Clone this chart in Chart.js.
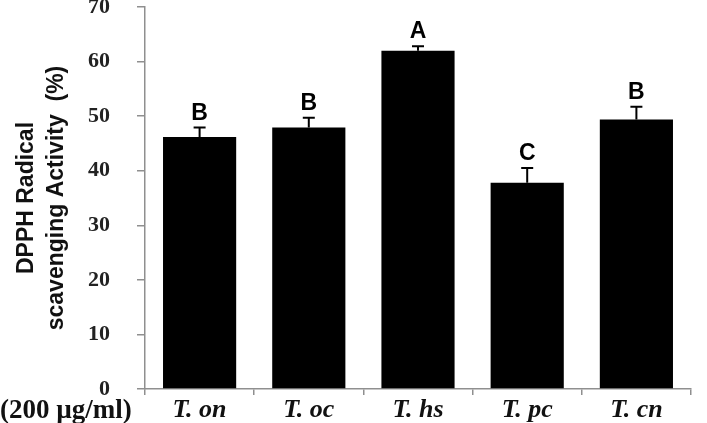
<!DOCTYPE html>
<html>
<head>
<meta charset="utf-8">
<script src="https://cdn.jsdelivr.net/npm/chart.js@4/dist/chart.umd.min.js"></script>
<style>
  html, body { margin: 0; padding: 0; background: #fff; }
  #wrap { width: 707px; height: 423px; position: relative; }
</style>
</head>
<body>
<div id="wrap"><canvas id="dpphChart" width="707" height="423"></canvas></div>
<script>
// Sample data
const categories = ["T. on", "T. oc", "T. hs", "T. pc", "T. cn"];
const activity = [46.2, 47.9, 62.0, 37.8, 49.4];
const errors = [1.7, 1.8, 0.8, 2.7, 2.3];
const groupLetters = ["B", "B", "A", "C", "B"];
const yTicks = [0, 10, 20, 30, 40, 50, 60, 70];
const concentrationLabel = "(200 \u00b5g/ml)";

const sansFont = "'Liberation Sans', Arial, sans-serif";
const serifFont = "'Liberation Serif', 'Times New Roman', serif";
const axisGray = "#8f8f8f";

// Error bars, significance letters and the concentration label
const annotatePlugin = {
  id: 'annotate',
  afterDatasetsDraw(chart) {
    const ctx = chart.ctx;
    const x = chart.scales.x;
    const y = chart.scales.y;
    ctx.save();
    ctx.strokeStyle = '#000';
    ctx.lineWidth = 2;
    activity.forEach((v, i) => {
      const cx = x.getPixelForValue(i);
      const yTop = y.getPixelForValue(v + errors[i]);
      const yBar = y.getPixelForValue(v);
      ctx.beginPath();
      ctx.moveTo(cx, yBar);
      ctx.lineTo(cx, yTop);
      ctx.moveTo(cx - 6, yTop);
      ctx.lineTo(cx + 6, yTop);
      ctx.stroke();

      ctx.fillStyle = '#000';
      ctx.font = "bold 23px " + sansFont;
      ctx.textAlign = 'center';
      ctx.textBaseline = 'alphabetic';
      ctx.fillText(groupLetters[i], cx, yTop - 8);
    });
    ctx.font = "bold 27px " + serifFont;
    ctx.textAlign = 'left';
    ctx.fillStyle = '#111';
    ctx.fillText(concentrationLabel, 0, 418);
    ctx.restore();
  }
};

const ctx = document.getElementById('dpphChart').getContext('2d');
const dpphChart = new Chart(ctx, {
  type: 'bar',
  data: {
    labels: categories,
    datasets: [{
      data: activity,
      backgroundColor: '#000',
      borderWidth: 0,
      barPercentage: 0.67,
      categoryPercentage: 1.0
    }]
  },
  options: {
    responsive: false,
    animation: false,
    layout: { padding: { top: 0, right: 16, bottom: 0, left: 0 } },
    plugins: { legend: { display: false }, tooltip: { enabled: false } },
    scales: {
      x: {
        offset: true,
        grid: { display: true, drawOnChartArea: false, offset: true, color: axisGray, tickLength: 6, lineWidth: 1.5 },
        border: { color: axisGray, width: 1.5 },
        ticks: {
          color: '#111',
          padding: 0,
          font: { family: serifFont, size: 26, weight: 'bold', style: 'italic' }
        },
        afterFit(scale) { scale.height = 34; }
      },
      y: {
        min: 0,
        max: 70,
        afterBuildTicks(scale) { scale.ticks = yTicks.map(v => ({ value: v })); },
        grid: { display: true, drawOnChartArea: false, color: axisGray, tickLength: 8, lineWidth: 1.5 },
        border: { color: axisGray, width: 1.5 },
        ticks: {
          color: '#222',
          padding: 27,
          font: { family: serifFont, size: 22, weight: 'bold' }
        },
        title: {
          display: true,
          text: ["DPPH Radical", "scavenging Activity  (%)"],
          color: '#111',
          font: { family: sansFont, size: 23, weight: 'bold', lineHeight: 1.3 },
          padding: { top: 12, bottom: 0 }
        },
        afterFit(scale) {
          scale.width = 145;
          scale.paddingTop = 7;
          scale.paddingBottom = 0;
        }
      }
    }
  },
  plugins: [annotatePlugin]
});
</script>
</body>
</html>
